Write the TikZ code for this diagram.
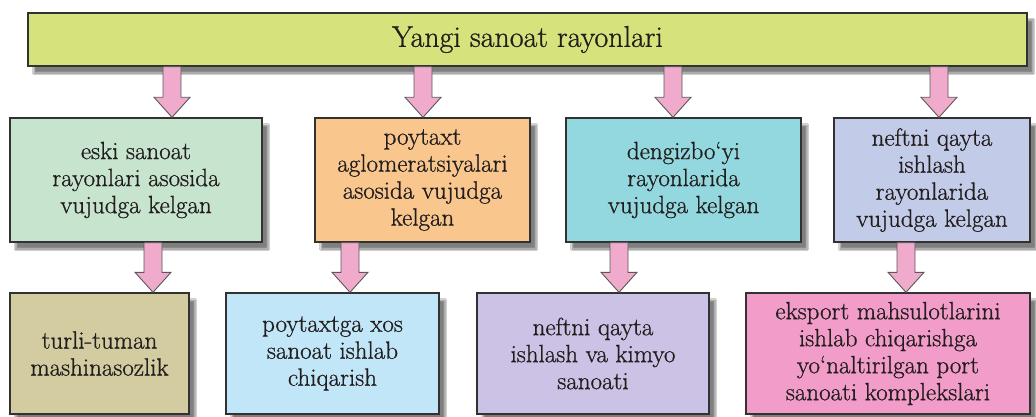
\documentclass[tikz,border=0pt]{standalone}
\usepackage{fontspec}
\newfontfamily\tms{Latin Modern Roman}[FakeBold=0.8]
\usetikzlibrary{calc,shadows.blur}
\definecolor{topc}{RGB}{214,226,124}
\definecolor{m1c}{RGB}{198,228,206}
\definecolor{m2c}{RGB}{249,198,142}
\definecolor{m3c}{RGB}{146,216,222}
\definecolor{m4c}{RGB}{194,204,232}
\definecolor{b1c}{RGB}{210,204,160}
\definecolor{b2c}{RGB}{192,230,248}
\definecolor{b3c}{RGB}{204,194,230}
\definecolor{b4c}{RGB}{242,156,202}
\definecolor{arrc}{RGB}{240,170,204}
\definecolor{edgec}{RGB}{50,50,50}
\definecolor{txtc}{RGB}{35,30,30}
\tikzset{
  box/.style={draw=edgec, line width=1.4pt, inner sep=0pt, align=center,
    text=txtc, font=\tms\fontsize{25}{27}\selectfont,
    blur shadow={shadow xshift=6pt, shadow yshift=-7pt, shadow blur steps=6, shadow opacity=50}},
  fatarr/.style={draw=gray!70!black, line width=0.9pt, fill=arrc, line join=miter}
}
\newcommand\fatarrow[2]{%
  \draw[fatarr] ($(#1)+(-9,0)$) -- ($(#2)+(-9,-20)$) -- ($(#2)+(-18,-20)$) -- (#2)
    -- ($(#2)+(18,-20)$) -- ($(#2)+(9,-20)$) -- ($(#1)+(9,0)$) -- cycle;}
\begin{document}
\begin{tikzpicture}[x=1pt,y=-1pt]
\useasboundingbox (0,0) rectangle (1036,417);
\fill[white] (0,0) rectangle (1036,417);
% top bar
\node[box, fill=topc, minimum width=999pt, minimum height=53pt, font=\tms\fontsize{30}{32}\selectfont] (top) at (527.5,39.5) {Yangi sanoat rayonlari};
% middle row
\node[box, fill=m1c, minimum width=252pt, minimum height=124pt] (m1) at (136,180) {eski sanoat\\rayonlari asosida\\vujudga kelgan};
\node[box, fill=m2c, minimum width=215pt, minimum height=124pt] (m2) at (422.5,180) {poytaxt\\aglomeratsiyalari\\asosida vujudga\\kelgan};
\node[box, fill=m3c, minimum width=235pt, minimum height=124pt] (m3) at (683.5,180) {dengizbo‘yi\\rayonlarida\\vujudga kelgan};
\node[box, fill=m4c, minimum width=196pt, minimum height=124pt] (m4) at (932,180) {neftni qayta\\ishlash\\rayonlarida\\vujudga kelgan};
% bottom row
\node[box, fill=b1c, minimum width=179pt, minimum height=121pt] (b1) at (99.5,353.5) {turli-tuman\\mashinasozlik};
\node[box, fill=b2c, minimum width=213pt, minimum height=121pt] (b2) at (332.5,353.5) {poytaxtga xos\\sanoat ishlab\\chiqarish};
\node[box, fill=b3c, minimum width=232pt, minimum height=121pt] (b3) at (593,353.5) {neftni qayta\\ishlash va kimyo\\sanoati};
\node[box, fill=b4c, minimum width=284pt, minimum height=121pt] (b4) at (888,353.5) {eksport mahsulotlarini\\ishlab chiqarishga\\yo‘naltirilgan port\\sanoati komplekslari};
% arrow positions
\coordinate (t1) at (172,0);
\coordinate (t2) at (423,0);
\coordinate (t3) at (673,0);
\coordinate (t4) at (939,0);
\coordinate (u1) at (153,0);
\coordinate (u2) at (350,0);
\coordinate (u3) at (619,0);
\coordinate (u4) at (906,0);
\fatarrow{t1 |- top.south}{t1 |- m1.north}
\fatarrow{t2 |- top.south}{t2 |- m2.north}
\fatarrow{t3 |- top.south}{t3 |- m3.north}
\fatarrow{t4 |- top.south}{t4 |- m4.north}
\fatarrow{u1 |- m1.south}{u1 |- b1.north}
\fatarrow{u2 |- m2.south}{u2 |- b2.north}
\fatarrow{u3 |- m3.south}{u3 |- b3.north}
\fatarrow{u4 |- m4.south}{u4 |- b4.north}
\end{tikzpicture}
\end{document}
